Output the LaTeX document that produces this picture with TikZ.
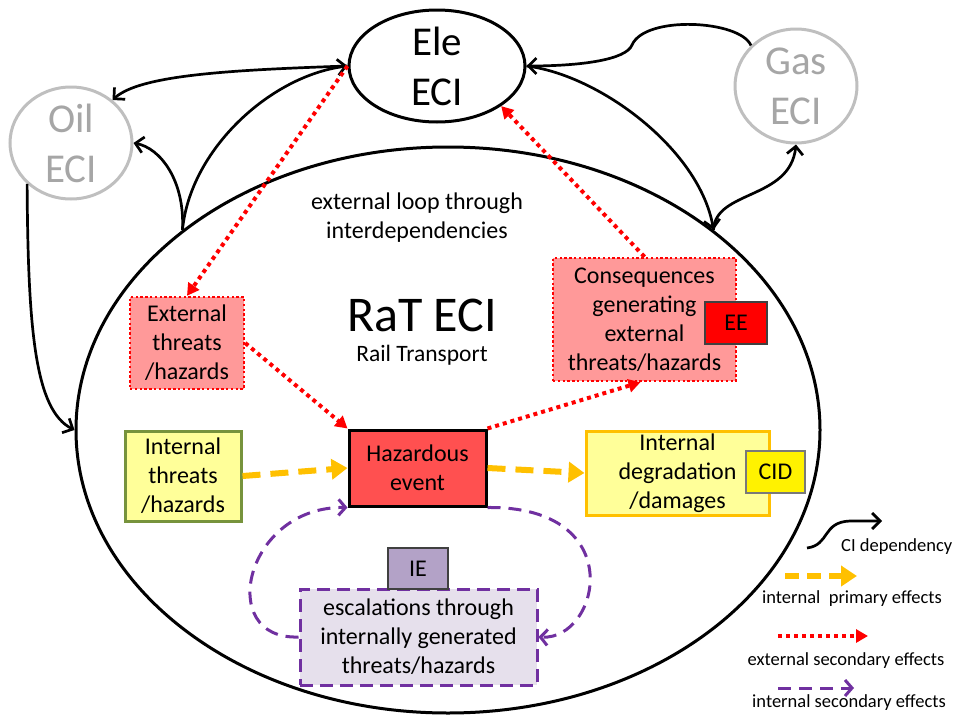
\documentclass[tikz,border=0pt]{standalone}
\usepackage{fontspec}
\setmainfont{Carlito}
\usetikzlibrary{shapes.geometric,arrows.meta}
\definecolor{pinkfill}{HTML}{FF9999}
\definecolor{hazfill}{HTML}{FF5050}
\definecolor{paleyel}{HTML}{FFFF99}
\definecolor{olive}{HTML}{77933C}
\definecolor{orangeC}{HTML}{FFC000}
\definecolor{purp}{HTML}{7030A0}
\definecolor{iefill}{HTML}{B3A2C7}
\definecolor{escfill}{HTML}{E6E0EC}
\definecolor{grayline}{HTML}{BFBFBF}
\definecolor{graytext}{HTML}{A6A6A6}
\definecolor{darkbd}{HTML}{404040}
\begin{document}
\begin{tikzpicture}[x=1pt,y=-1pt,
  blk/.style={draw=black,line width=2.7pt,-{Straight Barb[length=8pt,width=16pt]}},
  reddot/.style={draw=red,line width=4pt,dash pattern=on 4pt off 4pt,-{Triangle[length=12pt,width=13pt]}},
  orangedash/.style={draw=orangeC,line width=6pt,dash pattern=on 18pt off 10pt,-{Triangle[length=16pt,width=20pt]}},
  purpdash/.style={draw=purp,line width=3pt,dash pattern=on 13pt off 8pt,-{Straight Barb[length=7pt,width=16pt]}},
  box/.style={rectangle,inner sep=0pt,align=center,font=\fontsize{24}{29}\selectfont},
  txt/.style={inner sep=0pt,align=center,font=\fontsize{24}{29}\selectfont},
  leg/.style={inner sep=0pt,align=center,font=\fontsize{18.5}{22}\selectfont},
  eci/.style={ellipse,inner sep=0pt,align=center,line width=3pt,font=\fontsize{41}{50}\selectfont}]
\useasboundingbox (0,0) rectangle (956,715);
% main ellipses
\node[ellipse,draw=black,line width=3pt,minimum width=744pt,minimum height=566pt] (rat) at (448,430) {};
\node[eci,draw=black,minimum width=176pt,minimum height=112pt] (ele) at (437,66) {Ele\\ECI};
\node[eci,draw=grayline,text=graytext,minimum width=122pt,minimum height=112pt] (oil) at (71,143) {Oil\\ECI};
\node[eci,draw=grayline,text=graytext,minimum width=122pt,minimum height=114pt] (gas) at (796,86) {Gas\\ECI};
% labels inside
\node[txt] (loop) at (417,218) {external loop through\\interdependencies};
\node[inner sep=0pt,font=\fontsize{50}{58}\selectfont] (ratl) at (422,315) {RaT ECI};
\node[inner sep=0pt,font=\fontsize{23.5}{27}\selectfont] (rail) at (422,355) {Rail Transport};
% boxes
\node[box,minimum width=114pt,minimum height=92pt,fill=pinkfill,draw=red,line width=2.4pt,dash pattern=on 2.4pt off 2.4pt] (ext) at (187,343) {External\\threats\\/hazards};
\node[box,minimum width=116pt,minimum height=90pt,fill=paleyel,draw=olive,line width=3pt] (intt) at (183,476) {Internal\\threats\\/hazards};
\node[box,minimum width=137pt,minimum height=76pt,fill=hazfill,draw=black,line width=3pt] (haz) at (417.5,468) {Hazardous\\event};
\node[box,minimum width=183pt,minimum height=123pt,fill=pinkfill,draw=red,line width=2.4pt,dash pattern=on 2.4pt off 2.4pt] (cons) at (644.5,319.5) {Consequences\\generating\\external\\threats/hazards};
\node[box,minimum width=62pt,minimum height=42pt,fill=red,draw=darkbd,line width=1.3pt] (ee) at (736,323) {EE};
\node[box,minimum width=183pt,minimum height=84pt,fill=paleyel,draw=orangeC,line width=3pt] (deg) at (677.5,473) {Internal\\degradation\\/damages};
\node[box,minimum width=59pt,minimum height=42pt,fill=yellow,draw=darkbd!70,line width=1.3pt] (cid) at (775.5,472) {CID};
\node[box,minimum width=237pt,minimum height=96pt,fill=escfill,draw=purp,line width=3pt,dash pattern=on 13pt off 7pt] (esc) at (418.5,637) {escalations through\\internally generated\\threats/hazards};
\node[box,minimum width=60pt,minimum height=41pt,fill=iefill,draw=darkbd,line width=1.5pt] (ie) at (418,568.5) {IE};
% black CI dependency arrows
\draw[blk] (ele.west) .. controls (230,70) and (140,75) .. (oil.46);
\draw[blk] (rat.143) .. controls (185,180) and (160,148) .. (oil.east);
\draw[blk] (rat.143) .. controls (190,150) and (270,76) .. (ele.west);
\draw[blk] (oil.223) .. controls (28,330) and (35,410) .. (rat.west);
\draw[blk] (gas.138) .. controls (740,20) and (645,15) .. (632,45) .. controls (626,60) and (580,66) .. (ele.east);
\draw[blk] (ele.east) .. controls (600,75) and (700,150) .. (rat.37);
\draw[blk] (rat.37) .. controls (715,190) and (790,200) .. (gas.south);
% red dotted
\draw[reddot] (ele.west) -- (ext.north);
\draw[reddot] (ext.east) -- (haz.north west);
\draw[reddot] (haz.north east) -- ([xshift=-4pt]cons.south);
\draw[reddot] (cons.north) -- (ele.-32);
% orange dashed
\draw[orangedash] (intt.east) -- (haz.west);
\draw[orangedash] (haz.east) -- (deg.west);
% purple dashed loops
\draw[purpdash] (esc.west) .. controls (215,640) and (245,506) .. (haz.south west);
\draw[purpdash] (haz.south east) .. controls (630,506) and (600,640) .. (esc.east);
% legend
\coordinate (l1a) at (807,548);
\coordinate (l1b) at (882,521);
\draw[blk] (l1a) .. controls (830,545) and (822,522) .. (850,521) -- (l1b);
\node[leg,anchor=west] (l1t) at (841,547) {CI dependency};
\coordinate (l2a) at (785,576);
\coordinate (l2b) at (857,576);
\draw[orangedash,dash pattern=on 14pt off 8pt] (l2a) -- (l2b);
\node[leg] (l2t) at (852,599) {internal\ \ primary effects};
\coordinate (l3a) at (778,636);
\coordinate (l3b) at (868,636);
\draw[reddot] (l3a) -- (l3b);
\node[leg] (l3t) at (846,661) {external secondary effects};
\coordinate (l4a) at (778,688);
\coordinate (l4b) at (854,688);
\draw[purpdash] (l4a) -- (l4b);
\node[leg] (l4t) at (849,703) {internal secondary effects};
\end{tikzpicture}
\end{document}
